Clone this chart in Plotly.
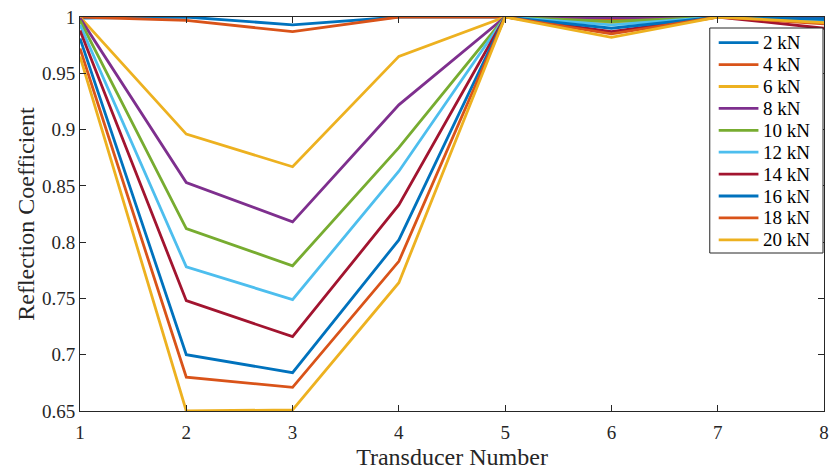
import plotly.graph_objects as go

x_vals = [1, 2, 3, 4, 5, 6, 7, 8]
loads = ["2 kN", "4 kN", "6 kN", "8 kN", "10 kN", "12 kN", "14 kN", "16 kN", "18 kN", "20 kN"]
s2 = [0.999, 1.000, 0.993, 1.000, 1.000, 0.998, 1.000, 0.999]
s4 = [1.000, 0.997, 0.987, 1.000, 1.000, 0.997, 1.000, 0.996]
s6 = [1.000, 0.896, 0.867, 0.965, 1.000, 0.995, 1.000, 0.995]
s8 = [0.999, 0.853, 0.818, 0.922, 1.000, 0.9995, 1.000, 0.998]
s10 = [0.997, 0.812, 0.779, 0.884, 1.000, 0.996, 1.000, 0.997]
s12 = [0.993, 0.778, 0.749, 0.863, 1.000, 0.993, 1.000, 0.996]
s14 = [0.988, 0.748, 0.716, 0.833, 1.000, 0.987, 1.000, 0.990]
s16 = [0.981, 0.700, 0.684, 0.802, 1.000, 0.990, 1.000, 0.998]
s18 = [0.972, 0.680, 0.671, 0.783, 1.000, 0.985, 1.000, 0.994]
s20 = [0.965, 0.650, 0.651, 0.764, 1.000, 0.982, 1.000, 0.995]
series = [s2, s4, s6, s8, s10, s12, s14, s16, s18, s20]
colors = ["#0072BD", "#D95319", "#EDB120", "#7E2F8E", "#77AC30", "#4DBEEE", "#A2142F",
          "#0072BD", "#D95319", "#EDB120"]
x_ticks = [1, 2, 3, 4, 5, 6, 7, 8]
y_ticks = [0.65, 0.7, 0.75, 0.8, 0.85, 0.9, 0.95, 1]
y_ticklabels = ["0.65", "0.7", "0.75", "0.8", "0.85", "0.9", "0.95", "1"]

W, H = 834, 472
ML, MR, MT, MB = 80, 5, 17, 61
PW, PH = W - ML - MR, H - MT - MB


def px_to_paper_x(px):
    return (px - ML) / PW


def px_to_paper_y(py):
    return (H - MB - py) / PH


fig = go.Figure()
for name, ys, c in zip(loads, series, colors):
    fig.add_trace(go.Scatter(x=x_vals, y=ys, mode="lines", name=name,
                             line=dict(color=c, width=2.8), showlegend=False))

font = "Liberation Serif, Times New Roman, serif"

# MATLAB-style legend box (layout decoration)
shapes = [dict(type="rect", xref="paper", yref="paper",
               x0=px_to_paper_x(714), x1=px_to_paper_x(828),
               y0=px_to_paper_y(253), y1=px_to_paper_y(28),
               line=dict(color="#262626", width=1), fillcolor="white", layer="above")]
annotations = []
row0, row_gap = 42.7, 21.9
for i, (name, c) in enumerate(zip(loads, colors)):
    yc = row0 + row_gap * i
    shapes.append(dict(type="line", xref="paper", yref="paper",
                       x0=px_to_paper_x(723), x1=px_to_paper_x(763),
                       y0=px_to_paper_y(yc), y1=px_to_paper_y(yc),
                       line=dict(color=c, width=2.8), layer="above"))
    annotations.append(dict(xref="paper", yref="paper", x=px_to_paper_x(766),
                            y=px_to_paper_y(yc), xanchor="left", yanchor="middle",
                            text=name, showarrow=False,
                            font=dict(family=font, size=19, color="#000000")))

fig.update_layout(
    width=W, height=H,
    margin=dict(l=ML, r=MR, t=MT, b=MB),
    paper_bgcolor="white", plot_bgcolor="white",
    font=dict(family=font, size=19, color="#262626"),
    showlegend=False,
    shapes=shapes,
    annotations=annotations,
    xaxis=dict(range=[1, 8], tickvals=x_ticks, ticks="inside", ticklen=6,
               tickcolor="#262626", showline=True, linecolor="#262626", linewidth=1,
               mirror="ticks", showgrid=False, zeroline=False, ticklabelstandoff=4,
               title=dict(text="Transducer Number", font=dict(size=24, family=font), standoff=6),
               tickfont=dict(size=19, family=font, color="#262626")),
    yaxis=dict(range=[0.65, 1], tickvals=y_ticks, ticktext=y_ticklabels, ticks="inside",
               ticklen=6, tickcolor="#262626", showline=True, linecolor="#262626",
               linewidth=1, mirror="ticks", showgrid=False, zeroline=False,
               title=dict(text="Reflection Coefficient", font=dict(size=24, family=font), standoff=0),
               tickfont=dict(size=19, family=font, color="#262626")),
)
fig.write_html("out.html")
